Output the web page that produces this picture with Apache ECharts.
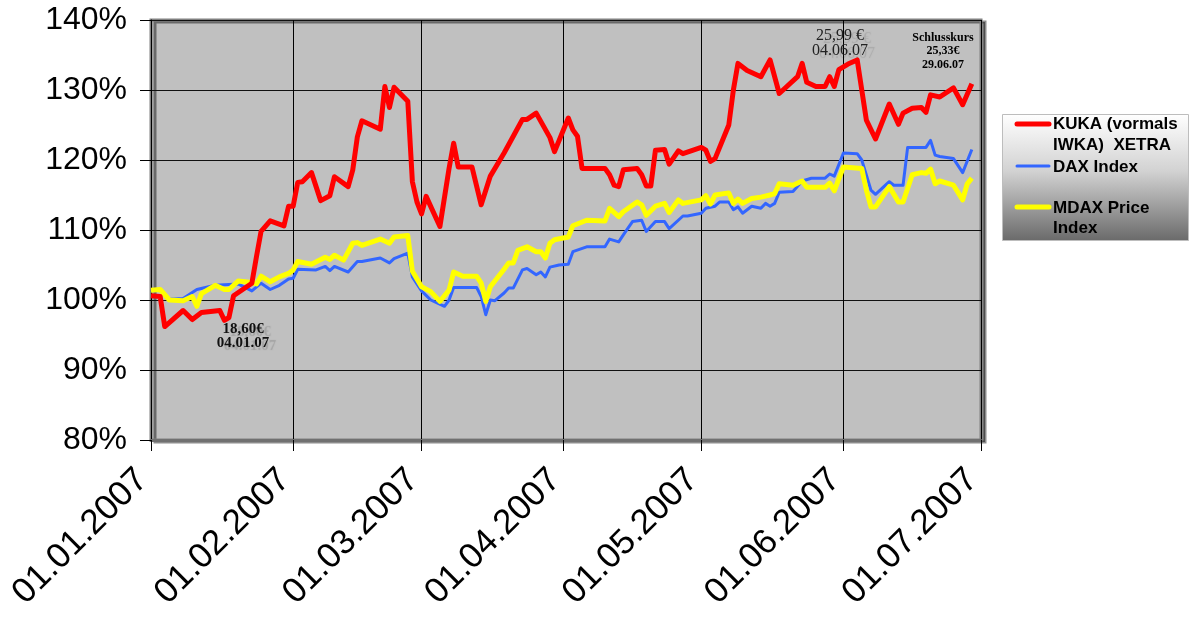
<!DOCTYPE html>
<html><head><meta charset="utf-8">
<script src="https://cdn.jsdelivr.net/npm/echarts@6/dist/echarts.min.js"></script>
<style>html,body{margin:0;padding:0;background:#fff}#c{width:1196px;height:619px}</style>
</head><body><div id="c"></div>
<script>
// ---------- data ----------
const xRange = ['2007-01-01', '2007-07-01'];
const yRange = [80, 140];
const yStep = 10;

const seriesNames = ['KUKA (vormals IWKA)  XETRA', 'DAX Index', 'MDAX Price Index'];
const legendLines = ['KUKA (vormals\nIWKA)  XETRA', 'DAX Index', 'MDAX Price\nIndex'];
const seriesColors = ['#ff0000', '#3366ff', '#ffff00'];

const kukaDates = ['2007-01-01','2007-01-03','2007-01-04','2007-01-08','2007-01-10','2007-01-12','2007-01-16','2007-01-17','2007-01-18','2007-01-19','2007-01-23','2007-01-24','2007-01-25','2007-01-27','2007-01-30','2007-01-31','2007-02-01','2007-02-02','2007-02-03','2007-02-05','2007-02-07','2007-02-09','2007-02-10','2007-02-13','2007-02-14','2007-02-15','2007-02-16','2007-02-20','2007-02-21','2007-02-22','2007-02-23','2007-02-26','2007-02-27','2007-02-28','2007-03-01','2007-03-02','2007-03-05','2007-03-07','2007-03-08','2007-03-09','2007-03-12','2007-03-14','2007-03-16','2007-03-19','2007-03-21','2007-03-23','2007-03-24','2007-03-26','2007-03-29','2007-03-30','2007-04-02','2007-04-03','2007-04-04','2007-04-05','2007-04-10','2007-04-11','2007-04-12','2007-04-13','2007-04-14','2007-04-17','2007-04-18','2007-04-19','2007-04-20','2007-04-21','2007-04-23','2007-04-24','2007-04-26','2007-04-27','2007-05-01','2007-05-02','2007-05-03','2007-05-04','2007-05-07','2007-05-08','2007-05-09','2007-05-11','2007-05-14','2007-05-16','2007-05-18','2007-05-22','2007-05-23','2007-05-24','2007-05-26','2007-05-28','2007-05-29','2007-05-30','2007-05-31','2007-06-02','2007-06-04','2007-06-06','2007-06-08','2007-06-11','2007-06-13','2007-06-14','2007-06-16','2007-06-18','2007-06-19','2007-06-20','2007-06-22','2007-06-25','2007-06-27','2007-06-29'];
const kukaValues = [100.6,100.5,96.2,98.5,97.2,98.2,98.5,97.1,97.5,100.6,102.4,106.2,109.8,111.3,110.6,113.4,113.4,116.8,116.9,118.2,114.2,114.9,117.6,116.2,118.6,123.3,125.6,124.4,130.5,127.5,130.4,128.4,116.9,114.0,112.3,114.8,110.5,118.8,122.4,119.0,119.0,113.6,117.7,121.0,123.4,125.8,125.8,126.7,123.2,121.2,126.0,124.3,123.4,118.8,118.8,117.9,116.4,116.2,118.6,118.8,117.9,116.3,116.3,121.4,121.5,119.4,121.3,120.9,121.8,121.4,119.8,120.2,125.0,130.0,133.8,132.8,131.9,134.3,129.5,131.9,133.8,131.1,130.5,130.5,131.9,130.5,132.9,133.7,134.3,125.7,123.0,128.0,125.1,126.7,127.4,127.5,126.8,129.3,129.0,130.3,127.9,130.9];

const daxDates = ['2007-01-01','2007-01-03','2007-01-05','2007-01-08','2007-01-11','2007-01-15','2007-01-20','2007-01-23','2007-01-25','2007-01-27','2007-01-29','2007-01-31','2007-02-01','2007-02-02','2007-02-06','2007-02-08','2007-02-09','2007-02-10','2007-02-13','2007-02-15','2007-02-16','2007-02-20','2007-02-22','2007-02-23','2007-02-26','2007-02-27','2007-03-01','2007-03-03','2007-03-06','2007-03-07','2007-03-08','2007-03-13','2007-03-14','2007-03-15','2007-03-16','2007-03-17','2007-03-19','2007-03-20','2007-03-21','2007-03-23','2007-03-24','2007-03-26','2007-03-27','2007-03-28','2007-03-29','2007-03-31','2007-04-02','2007-04-03','2007-04-06','2007-04-10','2007-04-11','2007-04-13','2007-04-14','2007-04-16','2007-04-18','2007-04-19','2007-04-21','2007-04-23','2007-04-24','2007-04-27','2007-04-28','2007-05-01','2007-05-02','2007-05-04','2007-05-05','2007-05-07','2007-05-08','2007-05-09','2007-05-10','2007-05-12','2007-05-14','2007-05-15','2007-05-16','2007-05-17','2007-05-18','2007-05-21','2007-05-23','2007-05-25','2007-05-28','2007-05-29','2007-05-30','2007-06-01','2007-06-04','2007-06-05','2007-06-07','2007-06-08','2007-06-11','2007-06-12','2007-06-14','2007-06-15','2007-06-19','2007-06-20','2007-06-21','2007-06-22','2007-06-25','2007-06-27','2007-06-29'];
const daxValues = [101.3,101.4,100.1,100.2,101.5,102.1,102.3,101.3,102.4,101.5,102.1,103.0,103.1,104.4,104.3,104.8,104.2,104.8,104.0,105.5,105.5,106.0,105.3,105.9,106.7,103.3,101.3,100.0,99.1,100.0,101.8,101.8,100.5,97.9,100.0,99.9,101.0,101.7,101.7,104.3,104.5,103.6,104.0,103.3,104.7,105.0,105.1,106.9,107.6,107.6,108.7,108.3,109.3,111.2,111.4,109.8,111.2,111.2,110.2,112.0,112.0,112.4,113.1,113.4,114.0,114.0,112.9,113.3,112.4,113.4,113.1,113.8,113.4,113.8,115.4,115.5,117.0,117.4,117.4,118.0,117.7,121.0,120.9,120.0,115.7,115.1,116.9,116.4,116.4,121.8,121.8,122.8,120.7,120.5,120.2,118.2,121.5];

const mdaxDates = ['2007-01-01','2007-01-03','2007-01-05','2007-01-08','2007-01-10','2007-01-11','2007-01-12','2007-01-15','2007-01-17','2007-01-18','2007-01-20','2007-01-23','2007-01-24','2007-01-25','2007-01-27','2007-01-29','2007-01-31','2007-02-01','2007-02-02','2007-02-05','2007-02-08','2007-02-09','2007-02-10','2007-02-12','2007-02-14','2007-02-15','2007-02-16','2007-02-20','2007-02-22','2007-02-23','2007-02-26','2007-02-27','2007-03-01','2007-03-03','2007-03-05','2007-03-07','2007-03-08','2007-03-10','2007-03-13','2007-03-14','2007-03-15','2007-03-16','2007-03-19','2007-03-20','2007-03-21','2007-03-22','2007-03-24','2007-03-26','2007-03-27','2007-03-28','2007-03-29','2007-03-30','2007-04-02','2007-04-03','2007-04-06','2007-04-10','2007-04-11','2007-04-13','2007-04-14','2007-04-17','2007-04-18','2007-04-19','2007-04-21','2007-04-23','2007-04-24','2007-04-26','2007-04-27','2007-05-01','2007-05-02','2007-05-03','2007-05-04','2007-05-07','2007-05-08','2007-05-09','2007-05-10','2007-05-12','2007-05-14','2007-05-16','2007-05-17','2007-05-18','2007-05-21','2007-05-23','2007-05-24','2007-05-28','2007-05-29','2007-05-30','2007-06-01','2007-06-05','2007-06-06','2007-06-07','2007-06-08','2007-06-11','2007-06-13','2007-06-14','2007-06-16','2007-06-18','2007-06-19','2007-06-20','2007-06-21','2007-06-22','2007-06-25','2007-06-27','2007-06-28','2007-06-29'];
const mdaxValues = [101.4,101.5,100.0,99.9,100.5,99.1,100.9,102.1,101.5,101.5,102.7,102.5,102.3,103.4,102.6,103.3,103.8,104.3,105.5,105.1,106.1,105.8,106.4,105.7,108.1,108.2,107.8,108.7,108.1,109.0,109.2,104.1,101.9,101.2,99.8,101.4,104.0,103.4,103.4,102.4,99.8,101.9,104.4,105.3,105.3,107.1,107.6,106.9,106.9,106.0,108.1,108.6,109.0,110.6,111.4,111.3,113.1,111.9,112.6,114.0,113.6,112.1,113.4,113.8,112.5,114.3,113.8,114.3,114.9,113.7,115.0,115.3,113.8,114.4,113.8,114.5,114.7,115.0,115.2,116.6,116.4,117.0,116.1,116.1,116.7,115.6,119.0,118.8,115.7,113.3,113.3,116.2,114.0,114.0,117.9,118.2,118.1,118.7,116.6,117.0,116.4,114.3,116.6,117.4];

const noteLow = '18,60€\n04.01.07';
const noteHigh = '25,99 €\n04.06.07';
const noteClose = 'Schlusskurs\n25,33€\n29.06.07';

// ---------- chart ----------
const pairs = (d, v) => d.map((x, i) => [x, v[i]]);
const pad2 = n => (n < 10 ? '0' : '') + n;

const chart = echarts.init(document.getElementById('c'), null, {renderer: 'canvas'});
chart.setOption({
  animation: false,
  backgroundColor: '#ffffff',
  grid: {
    left: 151, right: 215, top: 20, bottom: 179,
    show: true, backgroundColor: '#c0c0c0',
    borderColor: '#808080', borderWidth: 3,
    shadowColor: 'rgba(0,0,0,0.45)', shadowOffsetX: 4, shadowOffsetY: 2, shadowBlur: 0
  },
  xAxis: {
    type: 'time',
    min: xRange[0], max: xRange[1],
    minInterval: 28 * 86400000, maxInterval: 31 * 86400000,
    axisLine: {lineStyle: {color: '#707070', width: 3}},
    axisTick: {show: true, length: 11, lineStyle: {color: '#000', width: 1}},
    splitLine: {show: true, lineStyle: {color: '#000', width: 1}},
    axisLabel: {
      rotate: 45, margin: 26, padding: [0, 12, 0, 0],
      showMinLabel: true, showMaxLabel: true, hideOverlap: false,
      fontFamily: 'Liberation Sans, Arial, sans-serif', fontSize: 35, color: '#000',
      formatter: v => { const d = new Date(v); return pad2(d.getDate()) + '.' + pad2(d.getMonth() + 1) + '.' + d.getFullYear(); }
    }
  },
  yAxis: {
    type: 'value', min: yRange[0], max: yRange[1], interval: yStep,
    axisLine: {show: true, lineStyle: {color: '#000', width: 1}},
    axisTick: {show: true, length: 11, lineStyle: {color: '#000'}},
    splitLine: {show: true, lineStyle: {color: '#111', width: 1}},
    axisLabel: {
      margin: 24, fontFamily: 'Liberation Sans, Arial, sans-serif', fontSize: 32, color: '#000',
      formatter: '{value}%'
    }
  },
  legend: {show: false},
  series: [
    {name: seriesNames[0], type: 'line', z: 5, showSymbol: false, data: pairs(kukaDates, kukaValues),
     lineStyle: {color: seriesColors[0], width: 5, join: 'round'}, itemStyle: {color: seriesColors[0]}},
    {name: seriesNames[1], type: 'line', z: 3, showSymbol: false, data: pairs(daxDates, daxValues),
     lineStyle: {color: seriesColors[1], width: 3, join: 'round'}, itemStyle: {color: seriesColors[1]}},
    {name: seriesNames[2], type: 'line', z: 4, showSymbol: false, data: pairs(mdaxDates, mdaxValues),
     lineStyle: {color: seriesColors[2], width: 5, join: 'round'}, itemStyle: {color: seriesColors[2]}}
  ],
  graphic: [
    // legend box
    {type: 'rect', left: 1002, top: 114, z: 10,
     shape: {width: 186, height: 126},
     style: {fill: new echarts.graphic.LinearGradient(0, 0, 0, 1, [{offset: 0, color: '#ffffff'}, {offset: 0.45, color: '#d2d2d2'}, {offset: 1, color: '#6a6a6a'}]),
             stroke: '#bdbdbd', lineWidth: 1}},
    {type: 'line', z: 11, shape: {x1: 1017, y1: 124, x2: 1049, y2: 124}, style: {stroke: seriesColors[0], lineWidth: 5, lineCap: 'round'}},
    {type: 'line', z: 11, shape: {x1: 1017, y1: 166, x2: 1049, y2: 166}, style: {stroke: seriesColors[1], lineWidth: 3, lineCap: 'round'}},
    {type: 'line', z: 11, shape: {x1: 1017, y1: 207, x2: 1049, y2: 207}, style: {stroke: seriesColors[2], lineWidth: 5, lineCap: 'round'}},
    {type: 'text', z: 11, x: 1053, y: 114, style: {text: legendLines[0], font: 'bold 17px "Liberation Sans", Arial, sans-serif', lineHeight: 21, fill: '#000', verticalAlign: 'top'}},
    {type: 'text', z: 11, x: 1053, y: 157, style: {text: legendLines[1], font: 'bold 17px "Liberation Sans", Arial, sans-serif', lineHeight: 21, fill: '#000', verticalAlign: 'top'}},
    {type: 'text', z: 11, x: 1053, y: 198, style: {text: legendLines[2], font: 'bold 17px "Liberation Sans", Arial, sans-serif', lineHeight: 20, fill: '#000', verticalAlign: 'top'}},
    // annotations
    {type: 'text', z: 12, x: 243, y: 336, style: {text: noteLow, font: 'bold 15px "Liberation Serif", "Times New Roman", serif', lineHeight: 14, fill: '#111', align: 'center', verticalAlign: 'middle',
      textShadowColor: 'rgba(0,0,0,0.15)', textShadowOffsetX: 7, textShadowOffsetY: 3, textShadowBlur: 1}},
    {type: 'text', z: 12, x: 840, y: 43, style: {text: noteHigh, font: '16px "Liberation Serif", "Times New Roman", serif', lineHeight: 15, fill: '#222', align: 'center', verticalAlign: 'middle',
      textShadowColor: 'rgba(0,0,0,0.12)', textShadowOffsetX: 7, textShadowOffsetY: 3, textShadowBlur: 1}},
    {type: 'text', z: 12, x: 943, y: 51, style: {text: noteClose, font: 'bold 12px "Liberation Serif", "Times New Roman", serif', lineHeight: 13.5, fill: '#000', align: 'center', verticalAlign: 'middle'}}
  ]
});
</script></body></html>
